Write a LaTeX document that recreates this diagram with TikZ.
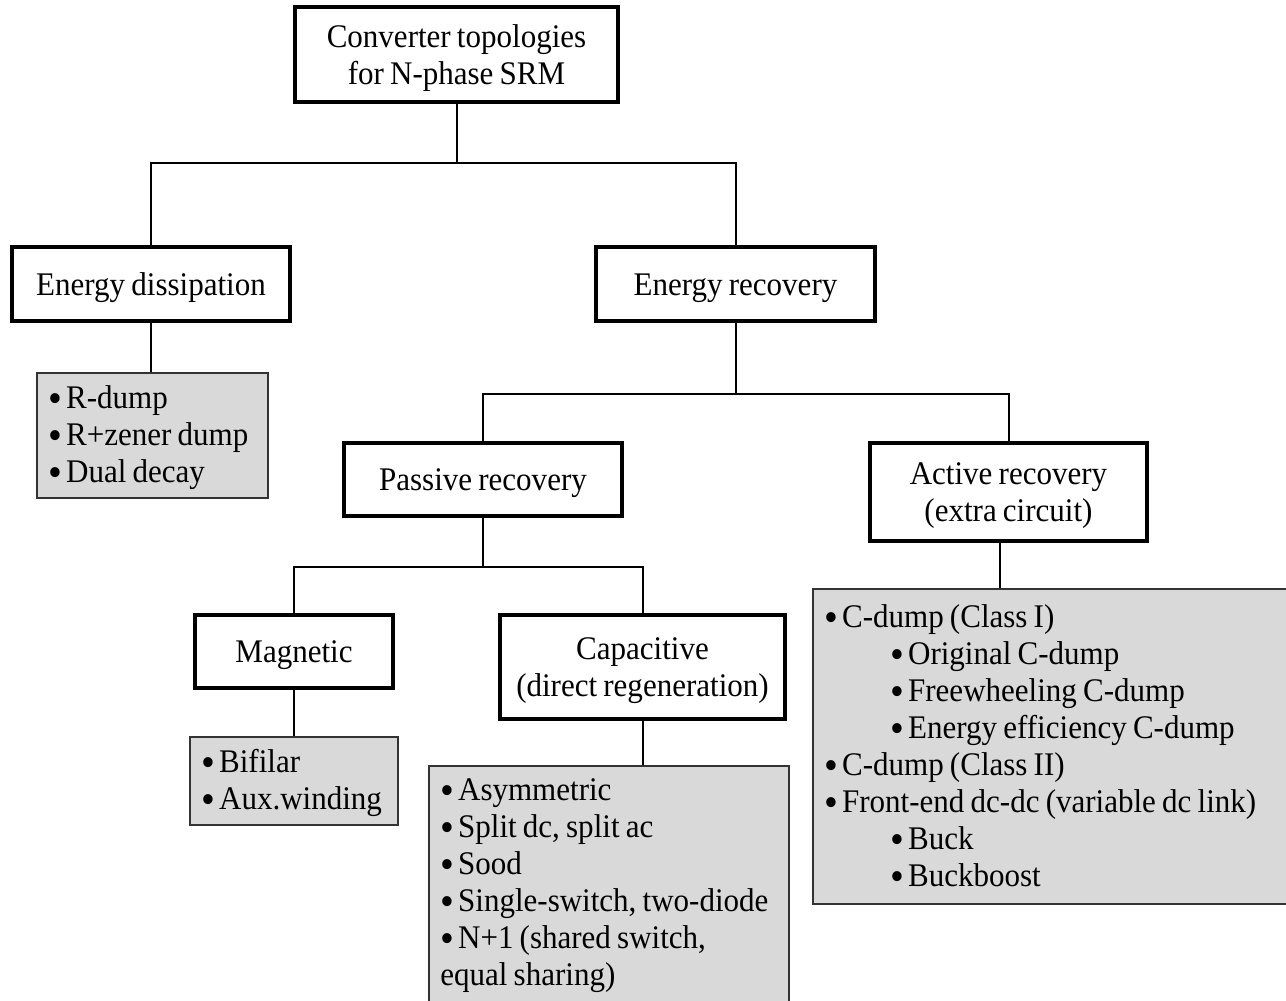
\documentclass[tikz,border=0pt]{standalone}
\usepackage{fontspec}
\setmainfont{Liberation Serif}[FakeStretch=0.94, WordSpace=0.8]
\newcommand{\lbul}{\raisebox{-2pt}[0pt][0pt]{\fontsize{21}{18.5}\selectfont •}\hspace{0.12em}}
\tikzset{
    topicbox/.style={draw, line width=1.75pt, fill=white, align=center, inner sep=2pt,
                     text height=14pt, text depth=3pt},
    twoline/.style={text height=32.5pt},
    listbox/.style={draw=black!80, line width=0.75pt, fill=black!15, anchor=north west,
                    align=flush left, inner xsep=5.8pt, inner ysep=0pt},
    link/.style={line width=1pt},
    every node/.style={font=\fontsize{16.5}{18.5}\selectfont}
}
\begin{document}
\begin{tikzpicture}[x=0.5pt, y=-0.5pt]
                    \useasboundingbox (0,0) rectangle (1286,1001);
                    \fill[white] (0,0) rectangle (1286,1001);

                    \node[topicbox, twoline, minimum width=161.5pt, minimum height=47.5pt] (top) at (456.5,54.5) {Converter topologies\\for N-phase SRM};

                    \node[topicbox, minimum width=139pt, minimum height=37pt] (dissip) at (151,284) {Energy dissipation};
                    \node[topicbox, minimum width=139.5pt, minimum height=37pt] (recov) at (735.5,284) {Energy recovery};

                    \node[topicbox, minimum width=139pt, minimum height=36.5pt] (passive) at (483,479.5) {Passive recovery};
                    \node[topicbox, twoline, minimum width=138.5pt, minimum height=49pt] (active) at (1008.5,492) {Active recovery\\(extra circuit)};

                    \node[topicbox, minimum width=99pt, minimum height=36.5pt] (magnetic) at (294,651.5) {Magnetic};
                    \node[topicbox, twoline, minimum width=142.5pt, minimum height=52pt] (capac) at (642.5,667) {Capacitive\\(direct regeneration)};

                    \node[listbox, text width=103.9pt, text height=18pt, text depth=44.5pt] (rdump) at (36,372)
                        {\lbul R-dump\\\lbul R+zener dump\\\lbul Dual decay};
                    \node[listbox, text width=92.4pt, text height=18pt, text depth=26pt] (bifilar) at (189,736)
                        {\lbul Bifilar\\\lbul Aux.winding};
                    \node[listbox, text width=168.4pt, text height=17.5pt, text depth=110pt] (asym) at (428,765)
                        {\lbul Asymmetric\\\lbul Split dc, split ac\\\lbul Sood\\\lbul Single-switch, two-diode\\\lbul N+1 (shared switch,\\equal sharing)};
                    \node[listbox, text width=232.4pt, text height=19.5pt, text depth=138pt] (cdump) at (812,588)
                        {\lbul C-dump (Class I)\\
                         \hspace*{2em}\lbul Original C-dump\\
                         \hspace*{2em}\lbul Freewheeling C-dump\\
                         \hspace*{2em}\lbul Energy efficiency C-dump\\
                         \lbul C-dump (Class II)\\
                         \lbul Front-end dc-dc (variable dc link)\\
                         \hspace*{2em}\lbul Buck\\
                         \hspace*{2em}\lbul Buckboost};

                    \coordinate (J0) at (top.south |- 0,163);
                    \coordinate (J1) at (recov.south |- 0,394);
                    \coordinate (J2) at (passive.south |- 0,567);
                    \coordinate (A0) at ([xshift=-4.5pt]active.south);

                    \draw[link] (top.south) -- (J0);
                    \draw[link] (J0) -| (dissip.north);
                    \draw[link] (J0) -| (recov.north);
                    \draw[link] (dissip.south) -- (dissip.south |- rdump.north);

                    \draw[link] (recov.south) -- (J1);
                    \draw[link] (J1) -| (passive.north);
                    \draw[link] (J1) -| (active.north);
                    \draw[link] (A0) -- (A0 |- cdump.north);

                    \draw[link] (passive.south) -- (J2);
                    \draw[link] (J2) -| (magnetic.north);
                    \draw[link] (J2) -| (capac.north);
                    \draw[link] (magnetic.south) -- (magnetic.south |- bifilar.north);
                    \draw[link] (capac.south) -- (capac.south |- asym.north);

                \end{tikzpicture}
\end{document}
